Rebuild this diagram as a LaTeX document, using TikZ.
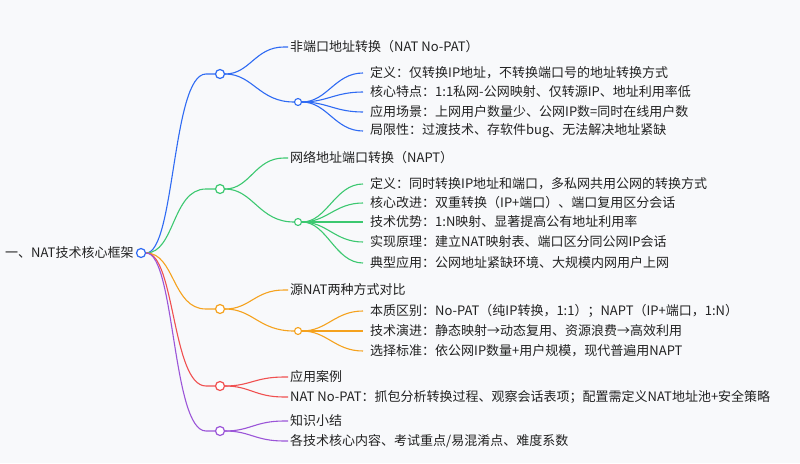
\documentclass[tikz,border=0pt]{standalone}
\usepackage{fontspec}
\setmainfont{Noto Sans CJK SC}
\definecolor{bg}{HTML}{F8F9FB}
\definecolor{cb}{HTML}{2F6BF3}
\definecolor{cg}{HTML}{3CC870}
\definecolor{co}{HTML}{F5A21E}
\definecolor{cr}{HTML}{F05050}
\definecolor{cp}{HTML}{9B55D8}
\definecolor{tx}{HTML}{222222}
\begin{document}
\begin{tikzpicture}[x=1pt,y=-1pt,
  lbl/.style={anchor=west,inner sep=0pt,font=\fontsize{13}{15}\selectfont,text=tx},
  bc/.style={circle,draw=#1,fill=white,line width=1.2pt,minimum size=9pt,inner sep=0pt},
  sc/.style={circle,draw=#1,fill=white,line width=1.1pt,minimum size=7pt,inner sep=0pt},
  ln/.style={draw=#1,line width=1.1pt}]
\fill[bg] (0,0) rectangle (800,463);
\useasboundingbox (0,0) rectangle (800,463);
\node[lbl] (root) at (5,253) {一、NAT技术核心框架};
\node[bc=cb] (r) at (141,253) {};
% branch circles
\node[bc=cb] (b1) at (220,74) {};
\node[bc=cg] (b2) at (220,189) {};
\node[bc=co] (b3) at (220,309) {};
\node[bc=cr] (b4) at (220,386) {};
\node[bc=cp] (b5) at (220,431) {};
\foreach \b/\c/\y in {b1/cb/74,b2/cg/189,b3/co/309,b4/cr/386,b5/cp/431}{
  \draw[ln=\c] (r.east) .. controls (175,253) and (172,\y) .. (206,\y) -- (\b.west);
}
% titles
\node[lbl] (t1) at (290,47) {非端口地址转换（NAT No-PAT）};
\node[lbl] (t2) at (290,158) {网络地址端口转换（NAPT）};
\node[lbl] (t3) at (290,290) {源NAT两种方式对比};
\node[lbl] (t4) at (290,377) {应用案例};
\node[lbl] (t4b) at (290,397) {NAT No-PAT：抓包分析转换过程、观察会话表项；配置需定义NAT地址池+安全策略};
\node[lbl] (t5) at (290,421) {知识小结};
\node[lbl] (t5b) at (290,441) {各技术核心内容、考试重点/易混淆点、难度系数};
% sub circles
\node[sc=cb] (s1) at (298,102) {};
\node[sc=cg] (s2) at (298,222) {};
\node[sc=co] (s3) at (298,331) {};
\foreach \b/\c/\t/\ty in {b1/cb/t1/47,b2/cg/t2/158,b3/co/t3/290,b4/cr/t4/377,b4/cr/t4b/397,b5/cp/t5/421,b5/cp/t5b/441}{
  \draw[ln=\c] (\b.east) .. controls ([xshift=25]\b.east) and (255,\ty) .. (284,\ty) -- ([xshift=-2]\t.west);
}
\foreach \b/\s/\c in {b1/s1/cb,b2/s2/cg,b3/s3/co}{
  \draw[ln=\c] (\b.east) .. controls ([xshift=28]\b.east) and ([xshift=-35]\s.west) .. (\s.west);
}
% leaves
\node[lbl] (l11) at (370,73) {定义：仅转换IP地址，不转换端口号的地址转换方式};
\node[lbl] (l12) at (370,92) {核心特点：1:1私网-公网映射、仅转源IP、地址利用率低};
\node[lbl] (l13) at (370,112) {应用场景：上网用户数量少、公网IP数=同时在线用户数};
\node[lbl] (l14) at (370,131) {局限性：过渡技术、存软件bug、无法解决地址紧缺};
\node[lbl] (l21) at (370,184) {定义：同时转换IP地址和端口，多私网共用公网的转换方式};
\node[lbl] (l22) at (370,203) {核心改进：双重转换（IP+端口）、端口复用区分会话};
\node[lbl] (l23) at (370,222) {技术优势：1:N映射、显著提高公有地址利用率};
\node[lbl] (l24) at (370,242) {实现原理：建立NAT映射表、端口区分同公网IP会话};
\node[lbl] (l25) at (370,263) {典型应用：公网地址紧缺环境、大规模内网用户上网};
\node[lbl] (l31) at (370,311) {本质区别：No-PAT（纯IP转换，1:1）；NAPT（IP+端口，1:N）};
\node[lbl] (l32) at (370,331) {技术演进：静态映射→动态复用、资源浪费→高效利用};
\node[lbl] (l33) at (370,351) {选择标准：依公网IP数量+用户规模，现代普遍用NAPT};
\foreach \s/\c/\l in {s1/cb/l11,s1/cb/l12,s1/cb/l13,s1/cb/l14,s2/cg/l21,s2/cg/l22,s2/cg/l23,s2/cg/l24,s2/cg/l25,s3/co/l31,s3/co/l32,s3/co/l33}{
  \draw[ln=\c] (\s.east) .. controls ([xshift=25]\s.east) and ([xshift=-35]\l.west) .. ([xshift=-7]\l.west);
}
\end{tikzpicture}
\end{document}
